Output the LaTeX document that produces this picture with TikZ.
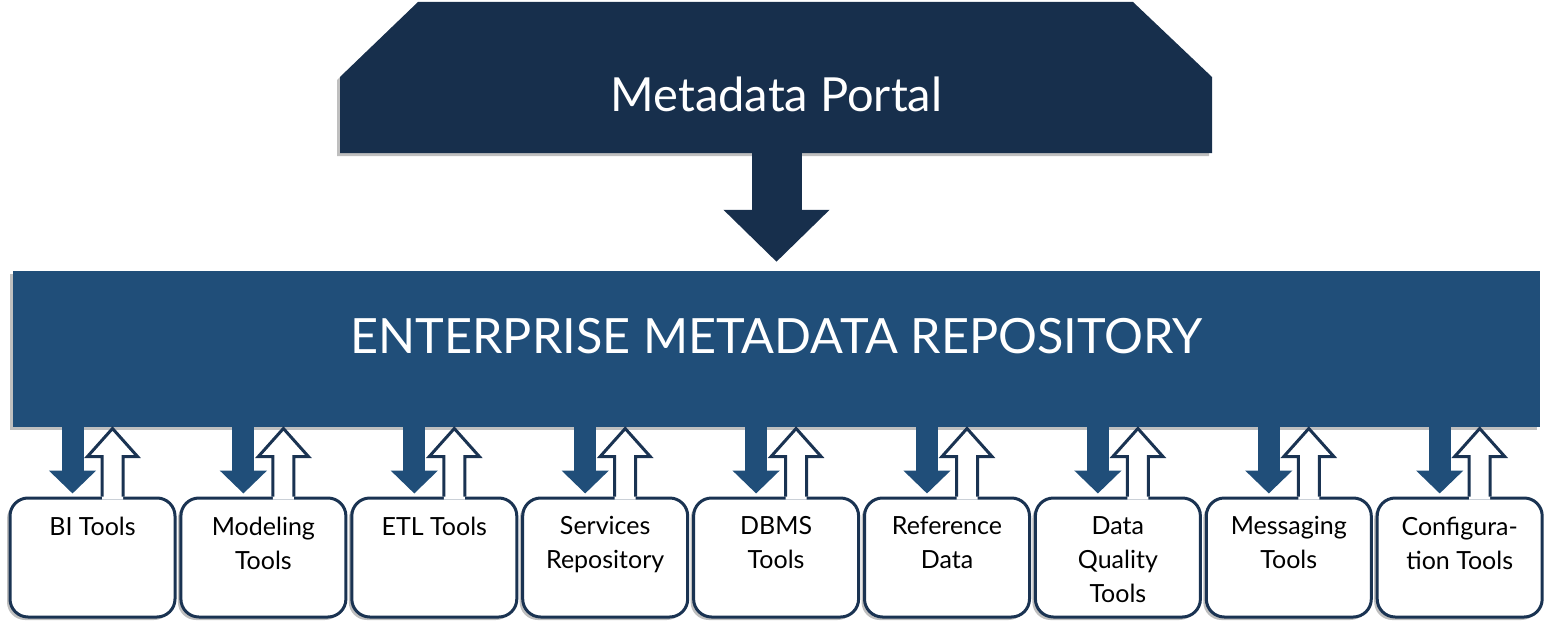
\documentclass[tikz,border=0pt]{standalone}
\usepackage{fontspec}
\setmainfont{Lato}
\usetikzlibrary{shadows, calc, arrows.meta}

\definecolor{portalblue}{RGB}{23,47,76}
\definecolor{repoblue}{RGB}{32,78,121}
\definecolor{edgeblue}{RGB}{26,51,82}

\tikzset{
  shade/.style={drop shadow={shadow xshift=-3pt, shadow yshift=-3pt, opacity=.25, fill=black}},
  repo/.style={fill=repoblue, minimum width=1527pt, minimum height=156pt, inner sep=0pt},
  toolbox/.style={draw=edgeblue, line width=3pt, fill=white, rounded corners=18pt,
    minimum width=165pt, minimum height=119pt, inner sep=0pt},
  tooltext/.style={align=center, inner sep=0pt, font=\fontsize{25}{34}\selectfont},
  bigarrow/.style={portalblue, line width=50pt, -{Triangle[length=52pt, width=103pt]}},
  toolarrow/.style={repoblue, line width=22pt, -{Triangle[length=23pt, width=46pt]}},
  upedge/.style={edgeblue, line width=3pt, line join=miter}
}

\begin{document}
\begin{tikzpicture}[x=1pt, y=-1pt]
  \useasboundingbox (0,0) rectangle (1559,634);

  % Portal
  \fill[portalblue, shade] (418,2) -- (1133,2) -- (1212,77) -- (1212,153)
    -- (340,153) -- (340,77) -- cycle;
  \node[white, font=\fontsize{47}{50}\selectfont] (portal) at (776.5,94) {Metadata Portal};
  \coordinate (portal-base) at (776.5,153);

  % Repository
  \node[repo, shade] (repo) at (776.5,349) {};
  \node[white, font=\fontsize{48.6}{52}\selectfont] (repo-txt) at (776.5,336)
    {ENTERPRISE METADATA REPOSITORY};
  \draw[bigarrow] (portal-base) -- ($(repo.north)+(0,-9)$);

  % Tools with their arrows
  \foreach \n/\t [count=\i from 0] in {bi/{BI Tools}, model/{Modeling\\Tools},
      etl/{ETL Tools}, serv/{Services\\Repository}, dbms/{DBMS\\Tools},
      ref/{Reference\\Data}, dq/{Data\\Quality\\Tools}, msg/{Messaging\\Tools},
      cfg/{Configura-\\tion Tools}}{
    \node[toolbox, shade] (\n) at ({92.5+170.9*\i},557.5) {};
    \coordinate (\n-in) at ($(\n.north)+(-20,0)$);
    \coordinate (\n-out) at ($(\n.north)+(20,0)$);
    % hollow arrow up into the repository
    \fill[white] ($(\n-out)+(-10.5,3)$) -- ++(0,-43) -- ++(-14.5,0) -- ++(25,-28)
      -- ++(25,28) -- ++(-14.5,0) -- ++(0,43) -- cycle;
    \draw[upedge] ($(\n-out)+(-10.5,0)$) -- ++(0,-40) -- ++(-14.5,0) -- ++(25,-28)
      -- ++(25,28) -- ++(-14.5,0) -- ++(0,40);
    % filled arrow down from the repository
    \draw[toolarrow] (repo.south -| \n-in) -- ($(\n-in)+(0,-3)$);
    \node[tooltext, anchor=north] (\n-txt) at ($(\n.north)+(0,20)$) {\t};
  }
\end{tikzpicture}
\end{document}
